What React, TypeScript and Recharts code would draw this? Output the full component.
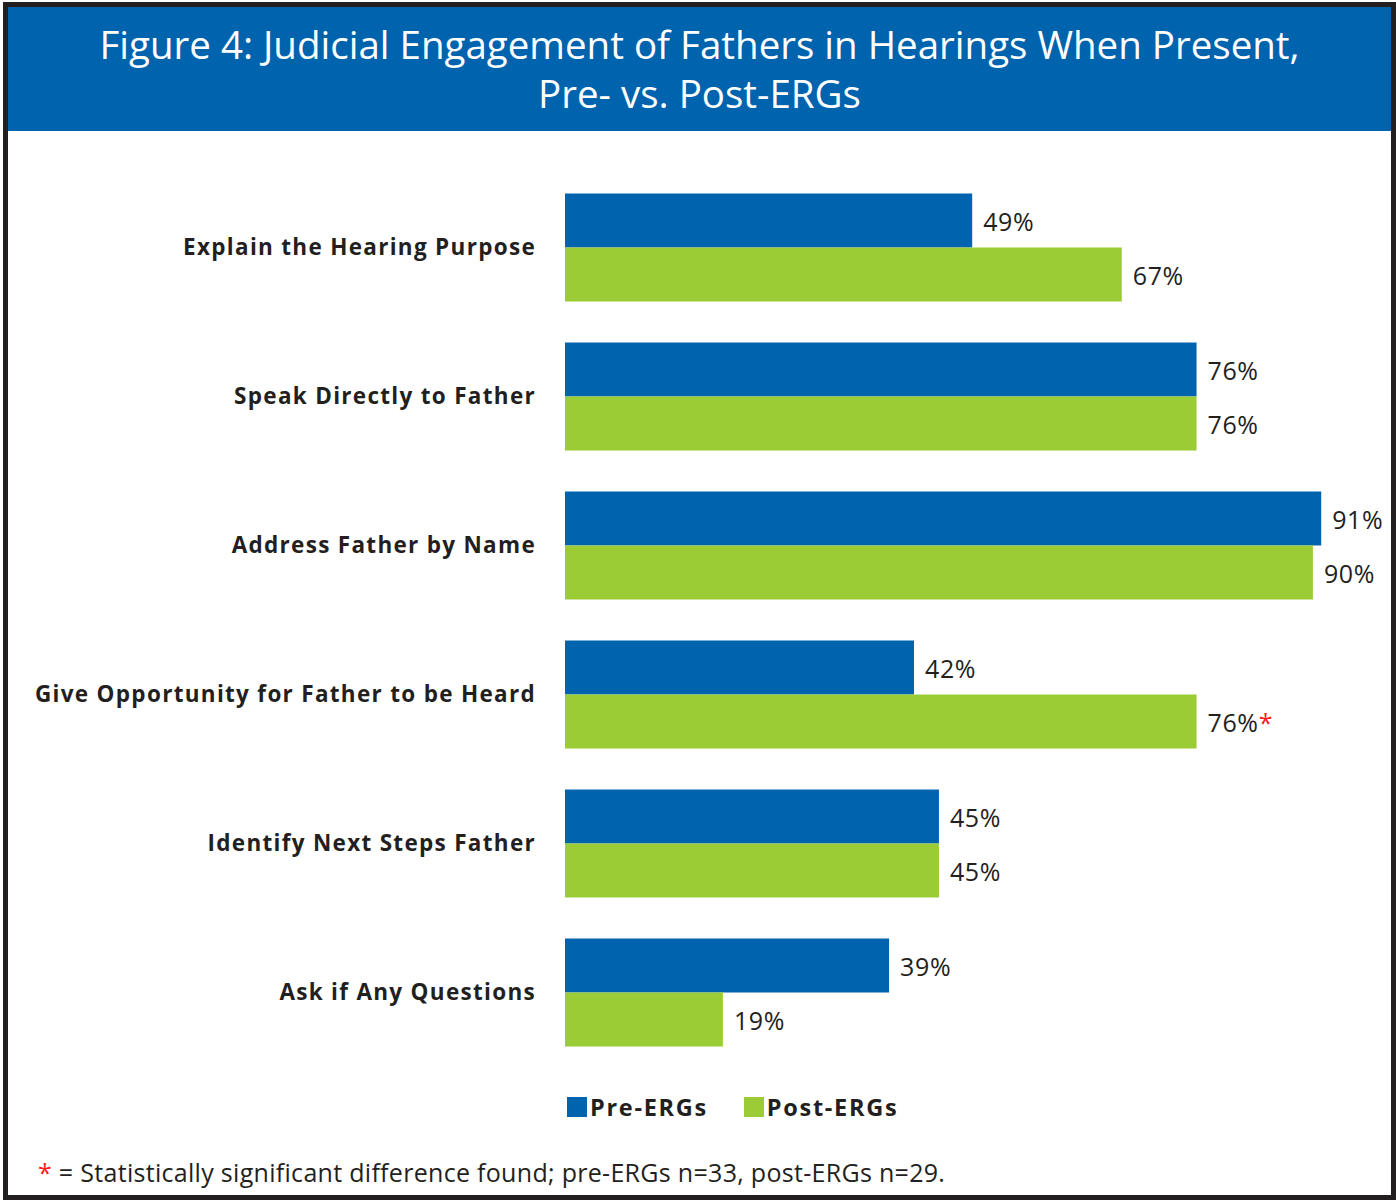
import { BarChart, Bar, XAxis, YAxis, LabelList } from 'recharts'

const categories = [
  'Explain the Hearing Purpose',
  'Speak Directly to Father',
  'Address Father by Name',
  'Give Opportunity for Father to be Heard',
  'Identify Next Steps Father',
  'Ask if Any Questions',
]
const preErgs = [49, 76, 91, 42, 45, 39]
const postErgs = [67, 76, 90, 76, 45, 19]
const postSignificant = [false, false, false, true, false, false]

const BLUE = '#0063ae'
const GREEN = '#9bcb35'
const INK = '#231f20'
const FONT = '"Open Sans", "Noto Sans", sans-serif'

const series = [
  { key: 'pre', name: 'Pre-ERGs', color: BLUE },
  { key: 'post', name: 'Post-ERGs', color: GREEN },
]

const data = categories.map((name, i) => ({
  name,
  pre: preErgs[i],
  post: postErgs[i],
  sig: postSignificant[i],
}))

function makeValueLabel(showStar: boolean) {
  return (props: any) => {
    const { x, y, width, height, value, index } = props
    const star = showStar && postSignificant[index]
    return (
      <text
        x={Number(x) + Number(width) + 11}
        y={Number(y) + Number(height) / 2}
        dominantBaseline="central"
        fontFamily={FONT}
        fontSize={25}
        letterSpacing={0.6}
        fill={INK}
      >
        {value}%
        {star && <tspan fill="#ff1a1a">*</tspan>}
      </text>
    )
  }
}

export default function App() {
  return (
    <div style={{ position: 'absolute', left: 0, top: 0, width: 1396, height: 1201, background: '#fff', fontFamily: FONT }}>
      <BarChart
        width={1396}
        height={1080}
        data={data}
        layout="vertical"
        barSize={54}
        barGap={0}
        margin={{ top: 172.5, right: 0, bottom: 13.5, left: 0 }}
        style={{ position: 'absolute', left: 0, top: 0 }}
      >
        <XAxis type="number" domain={[0, 100]} hide />
        <YAxis
          type="category"
          dataKey="name"
          width={565}
          axisLine={false}
          tickLine={false}
          tickSize={0}
          tickMargin={29}
          tick={{ fontFamily: FONT, fontSize: 22.5, fontWeight: 700, fill: INK, letterSpacing: 1.3 }}
        />
        <Bar dataKey="pre" name="Pre-ERGs" fill={BLUE} isAnimationActive={false}>
          <LabelList dataKey="pre" content={makeValueLabel(false)} />
        </Bar>
        <Bar dataKey="post" name="Post-ERGs" fill={GREEN} isAnimationActive={false}>
          <LabelList dataKey="post" content={makeValueLabel(true)} />
        </Bar>
      </BarChart>

      {/* legend */}
      <div style={{ position: 'absolute', left: 567, top: 1093, display: 'flex', alignItems: 'center' }}>
        {series.map((s, i) => (
          <div key={s.key} style={{ display: 'flex', alignItems: 'center', marginRight: i === 0 ? 36 : 0 }}>
            <span style={{ width: 20, height: 20, background: s.color, display: 'inline-block', marginRight: 3 }} />
            <span style={{ fontSize: 23.5, fontWeight: 700, color: INK, lineHeight: '28px', letterSpacing: 1.7 }}>{s.name}</span>
          </div>
        ))}
      </div>

      <div style={{ position: 'absolute', left: 38, top: 1156, fontSize: 25, color: INK, lineHeight: '32px', whiteSpace: 'nowrap', letterSpacing: 0.3 }}>
        <span style={{ color: '#ff1a1a' }}>*</span> = Statistically significant difference found; pre-ERGs n=33, post-ERGs n=29.
      </div>

      {/* frame + title bar */}
      <div
        style={{
          position: 'absolute',
          left: 3,
          top: 2,
          width: 1393,
          height: 1198,
          border: `5px solid ${INK}`,
          boxSizing: 'border-box',
          pointerEvents: 'none',
        }}
      >
        <div
          style={{
            height: 124,
            background: BLUE,
            color: '#fff',
            fontSize: 38.5,
            lineHeight: '49px',
            textAlign: 'center',
            paddingTop: 13,
            boxSizing: 'border-box',
            whiteSpace: 'nowrap',
          }}
        >
          Figure 4: Judicial Engagement of Fathers in Hearings When Present,
          <br />
          Pre- vs. Post-ERGs
        </div>
      </div>
    </div>
  )
}
